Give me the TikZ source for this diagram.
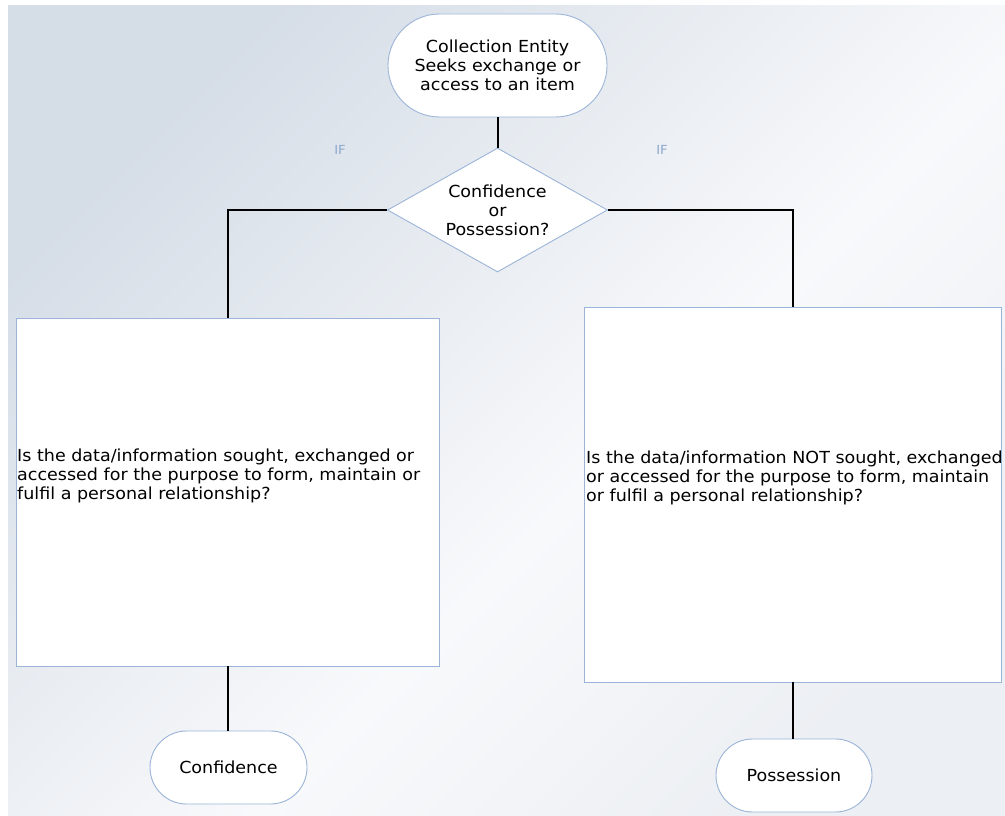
\documentclass[tikz,border=0pt]{standalone}
\usepackage{fontspec}
\setmainfont{DejaVu Sans}[FakeStretch=1.055]
\usetikzlibrary{shapes.geometric,shapes.misc}

\definecolor{bgA}{HTML}{D5DDE7}
\definecolor{bgAB}{HTML}{E4E9EF}
\definecolor{bgB}{HTML}{F8F9FB}
\definecolor{bgC}{HTML}{ECEFF3}
\definecolor{edgeblue}{HTML}{9BB4D8}
\definecolor{iflabel}{HTML}{8FA7CE}

% panel background: darker in the upper left, lightest past the middle
\pgfdeclareverticalshading{panelshade}{100bp}{color(0bp)=(bgC); color(25bp)=(bgC); color(44bp)=(bgB); color(62bp)=(bgAB); color(75bp)=(bgA); color(100bp)=(bgA)}

\newcommand\chartfont{\fontsize{16.6}{19}\selectfont}

\tikzset{
  terminal/.style={shape=rounded rectangle, draw=edgeblue, line width=0.9pt, fill=white,
    inner sep=0pt, align=center, font=\chartfont},
  decision/.style={shape=diamond, draw=edgeblue, line width=0.9pt, fill=white,
    inner sep=0pt, aspect=1.774, align=center, font=\chartfont},
  question/.style={shape=rectangle, draw=edgeblue, line width=0.9pt, fill=white, inner sep=0pt},
  qtext/.style={anchor=north west, inner sep=0pt, align=left, font=\chartfont},
  iftag/.style={text=iflabel, font=\fontsize{12.5}{14}\selectfont, inner sep=0pt},
  link/.style={draw=black, line width=2pt}
}

\begin{document}
\begin{tikzpicture}[x=1pt,y=-1pt]
\useasboundingbox (0,0) rectangle (1005,816);
\shade[shading=panelshade, shading angle=45] (8,6) rectangle (1005,816);

% start and decision
\node[terminal, minimum width=219pt, minimum height=103pt] (start) at (497.5,65.5)
  {Collection Entity\\Seeks exchange or\\access to an item};
\node[decision, minimum width=220pt, minimum height=124pt] (choice) at (497.5,210)
  {Confidence\\or\\Possession?};
\node[iftag] (ifL) at (340,150) {IF};
\node[iftag] (ifR) at (662,150) {IF};

% question boxes
\node[question, minimum width=423pt, minimum height=348pt] (qL) at (227.5,492) {};
\node[qtext] (qLtext) at (17,448.5)
  {Is the data/information sought, exchanged or\\accessed for the purpose to form, maintain or\\fulfil a personal relationship?};
\node[question, minimum width=417pt, minimum height=375pt] (qR) at (792.5,494.5) {};
\node[qtext] (qRtext) at (586,450.5)
  {Is the data/information NOT sought, exchanged\\or accessed for the purpose to form, maintain\\or fulfil a personal relationship?};

% outcomes
\node[terminal, minimum width=157pt, minimum height=73pt] (conf) at (228.5,767.5) {Confidence};
\node[terminal, minimum width=156pt, minimum height=73pt] (poss) at (794,775.5) {Possession};

% connectors
\draw[link] (start.south) -- (choice.north);
\draw[link] (choice.west) -| (qL.north);
\draw[link] (choice.east) -| (qR.north);
\draw[link] (qL.south) -- (qL.south |- conf.north);
\draw[link] (qR.south) -- (qR.south |- poss.north);
\end{tikzpicture}
\end{document}
